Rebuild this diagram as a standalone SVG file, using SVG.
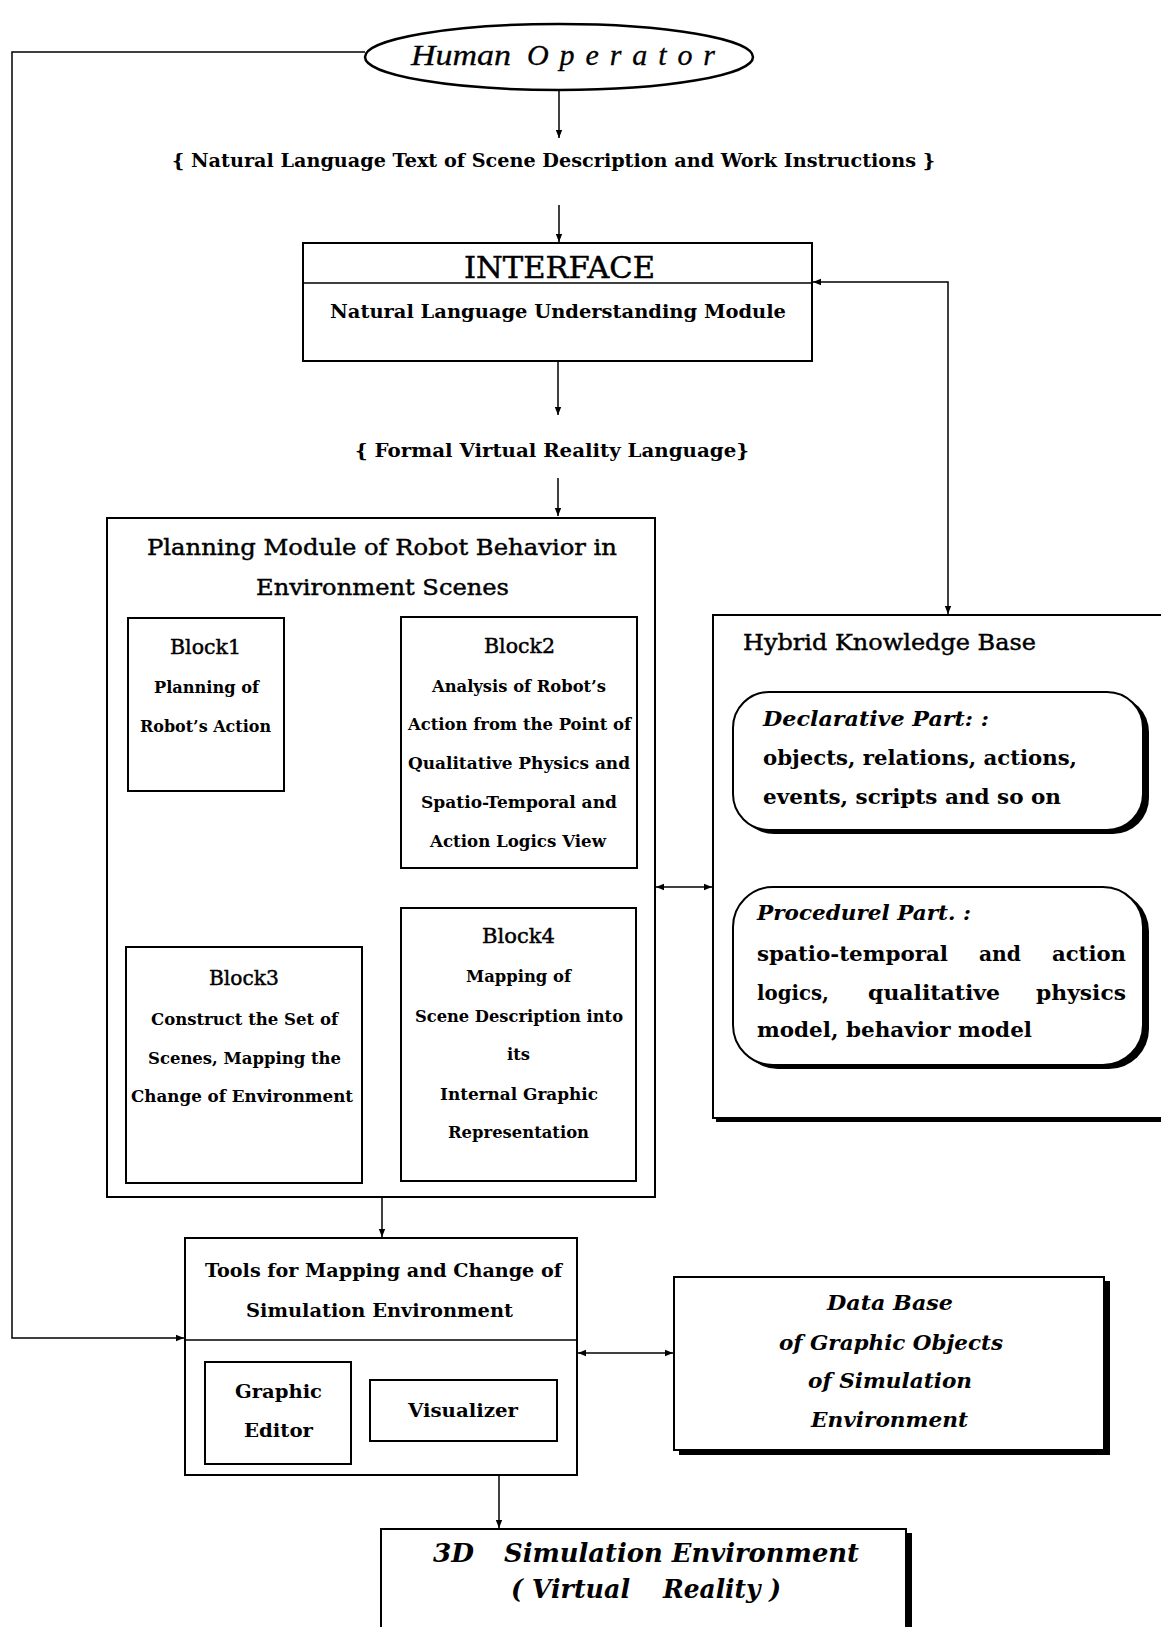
<svg xmlns="http://www.w3.org/2000/svg" width="1161" height="1627" viewBox="0 0 1161 1627">
<style>
.box{fill:#fff;stroke:#000;stroke-width:2}
.sh{fill:#000;stroke:none}
.ln{fill:none;stroke:#000;stroke-width:1.6}
.conn path{fill:none;stroke:#000;stroke-width:1.5}
text{fill:#000}
.b{font-family:"DejaVu Serif","Liberation Serif",serif;font-weight:bold}
.r{font-family:"DejaVu Serif","Liberation Serif",serif;stroke:#000;stroke-width:0.45}
.bi{font-family:"DejaVu Serif","Liberation Serif",serif;font-weight:bold;font-style:italic}
.li{font-family:"Liberation Serif",serif;font-style:italic;stroke:#000;stroke-width:0.3}
</style>
<defs>
<marker id="ah" viewBox="0 0 10 10" refX="10" refY="5" markerWidth="9" markerHeight="8" orient="auto-start-reverse" markerUnits="userSpaceOnUse">
<path d="M0,1 L10,5 L0,9 z" fill="#000"/>
</marker>
</defs>
<rect width="1161" height="1627" fill="#fff"/>

<g class="conn">
<path d="M559,90 V138" marker-end="url(#ah)"/>
<path d="M559,205 V242" marker-end="url(#ah)"/>
<path d="M558,361 V415" marker-end="url(#ah)"/>
<path d="M558,478 V516" marker-end="url(#ah)"/>
<path d="M948,614 V282 H813" marker-start="url(#ah)" marker-end="url(#ah)"/>
<path d="M365,52 H12 V1338 H184" marker-end="url(#ah)"/>
<path d="M285,713 H400" marker-start="url(#ah)" marker-end="url(#ah)"/>
<path d="M205,791 V946" marker-end="url(#ah)"/>
<path d="M363,1064 H400" marker-end="url(#ah)"/>
<path d="M656,887 H712" marker-start="url(#ah)" marker-end="url(#ah)"/>
<path d="M382,1198 V1237" marker-end="url(#ah)"/>
<path d="M578,1353 H673" marker-start="url(#ah)" marker-end="url(#ah)"/>
<path d="M499,1476 V1528" marker-end="url(#ah)"/>
</g>

<g id="human-operator">
<ellipse cx="559" cy="57" rx="194" ry="33" fill="#fff" stroke="#000" stroke-width="2.5"/>
<text class="li" x="411" y="65" font-size="30" textLength="100" lengthAdjust="spacingAndGlyphs">Human</text>
<text class="li" x="527" y="65" font-size="30" textLength="188" lengthAdjust="spacing">Operator</text>
</g>

<g id="label-nl-text">
<text class="b" x="172" y="167" font-size="19" textLength="763" lengthAdjust="spacingAndGlyphs">{ Natural Language Text of Scene Description and Work Instructions }</text>
</g>

<g id="interface">
<rect class="box" x="303" y="243" width="509" height="118"/>
<line class="ln" x1="303" y1="283" x2="812" y2="283"/>
<text class="r" x="464" y="278" font-size="29" textLength="191" lengthAdjust="spacingAndGlyphs">INTERFACE</text>
<text class="b" x="330" y="318" font-size="19" textLength="456" lengthAdjust="spacingAndGlyphs">Natural Language Understanding Module</text>
</g>

<g id="label-formal-vr">
<text class="b" x="355" y="457" font-size="19" textLength="394" lengthAdjust="spacingAndGlyphs">{ Formal Virtual Reality Language}</text>
</g>

<g id="planning-module">
<rect class="box" x="107" y="518" width="548" height="679"/>
<text class="r" x="147" y="555" font-size="23" textLength="470" lengthAdjust="spacingAndGlyphs">Planning Module of Robot Behavior in</text>
<text class="r" x="256" y="595" font-size="23" textLength="253" lengthAdjust="spacingAndGlyphs">Environment Scenes</text>
</g>

<g id="block1">
<rect class="box" x="128" y="618" width="156" height="173"/>
<text class="r" x="170" y="654" font-size="20" textLength="71" lengthAdjust="spacingAndGlyphs">Block1</text>
<text class="b" x="154" y="693" font-size="16" textLength="105" lengthAdjust="spacingAndGlyphs">Planning of</text>
<text class="b" x="140" y="732" font-size="16" textLength="131" lengthAdjust="spacingAndGlyphs">Robot’s Action</text>
</g>

<g id="block2">
<rect class="box" x="401" y="617" width="236" height="251"/>
<text class="r" x="484" y="653" font-size="20" textLength="71" lengthAdjust="spacingAndGlyphs">Block2</text>
<text class="b" x="432" y="692" font-size="16" textLength="174" lengthAdjust="spacingAndGlyphs">Analysis of Robot’s</text>
<text class="b" x="408" y="730" font-size="16" textLength="223" lengthAdjust="spacingAndGlyphs">Action from the Point of</text>
<text class="b" x="408" y="769" font-size="16" textLength="222" lengthAdjust="spacingAndGlyphs">Qualitative Physics and</text>
<text class="b" x="421" y="808" font-size="16" textLength="196" lengthAdjust="spacingAndGlyphs">Spatio-Temporal and</text>
<text class="b" x="430" y="847" font-size="16" textLength="176" lengthAdjust="spacingAndGlyphs">Action Logics View</text>
</g>

<g id="block3">
<rect class="box" x="126" y="947" width="236" height="236"/>
<text class="r" x="209" y="985" font-size="20" textLength="70" lengthAdjust="spacingAndGlyphs">Block3</text>
<text class="b" x="151" y="1025" font-size="16" textLength="187" lengthAdjust="spacingAndGlyphs">Construct the Set of</text>
<text class="b" x="148" y="1064" font-size="16" textLength="193" lengthAdjust="spacingAndGlyphs">Scenes, Mapping the</text>
<text class="b" x="131" y="1102" font-size="16" textLength="222" lengthAdjust="spacingAndGlyphs">Change of Environment</text>
</g>

<g id="block4">
<rect class="box" x="401" y="908" width="235" height="273"/>
<text class="r" x="482" y="943" font-size="20" textLength="73" lengthAdjust="spacingAndGlyphs">Block4</text>
<text class="b" x="466" y="982" font-size="16" textLength="105" lengthAdjust="spacingAndGlyphs">Mapping of</text>
<text class="b" x="415" y="1022" font-size="16" textLength="208" lengthAdjust="spacingAndGlyphs">Scene Description into</text>
<text class="b" x="507" y="1060" font-size="16" textLength="23" lengthAdjust="spacingAndGlyphs">its</text>
<text class="b" x="440" y="1100" font-size="16" textLength="158" lengthAdjust="spacingAndGlyphs">Internal Graphic</text>
<text class="b" x="448" y="1138" font-size="16" textLength="141" lengthAdjust="spacingAndGlyphs">Representation</text>
</g>

<g id="hybrid-knowledge-base">
<rect x="716" y="1118" width="450" height="4" class="sh"/>
<rect class="box" x="713" y="615" width="460" height="503"/>
<text class="r" x="743" y="650" font-size="23" textLength="293" lengthAdjust="spacingAndGlyphs">Hybrid Knowledge Base</text>
</g>

<g id="declarative-part">
<rect class="sh" x="738" y="696" width="411" height="138" rx="36" ry="36"/>
<rect class="box" x="733" y="692" width="410" height="138" rx="36" ry="36"/>
<text class="bi" x="763" y="726" font-size="21" textLength="226" lengthAdjust="spacingAndGlyphs">Declarative Part: :</text>
<text class="b" x="763" y="765" font-size="21" textLength="314" lengthAdjust="spacingAndGlyphs">objects, relations, actions,</text>
<text class="b" x="763" y="804" font-size="21" textLength="298" lengthAdjust="spacingAndGlyphs">events, scripts and so on</text>
</g>

<g id="procedural-part">
<rect class="sh" x="738" y="891" width="411" height="178" rx="40" ry="40"/>
<rect class="box" x="733" y="887" width="410" height="178" rx="40" ry="40"/>
<text class="bi" x="757" y="920" font-size="21" textLength="214" lengthAdjust="spacingAndGlyphs">Procedurel Part. :</text>
<text class="b" x="757" y="961" font-size="21" textLength="191" lengthAdjust="spacingAndGlyphs">spatio-temporal</text>
<text class="b" x="979" y="961" font-size="21" textLength="42" lengthAdjust="spacingAndGlyphs">and</text>
<text class="b" x="1052" y="961" font-size="21" textLength="74" lengthAdjust="spacingAndGlyphs">action</text>
<text class="b" x="757" y="1000" font-size="21" textLength="72" lengthAdjust="spacingAndGlyphs">logics,</text>
<text class="b" x="868" y="1000" font-size="21" textLength="132" lengthAdjust="spacingAndGlyphs">qualitative</text>
<text class="b" x="1036" y="1000" font-size="21" textLength="90" lengthAdjust="spacingAndGlyphs">physics</text>
<text class="b" x="757" y="1037" font-size="21" textLength="275" lengthAdjust="spacingAndGlyphs">model, behavior model</text>
</g>

<g id="tools">
<rect class="box" x="185" y="1238" width="392" height="237"/>
<line class="ln" x1="185" y1="1340" x2="577" y2="1340"/>
<text class="b" x="205" y="1277" font-size="19" textLength="357" lengthAdjust="spacingAndGlyphs">Tools for Mapping and Change of</text>
<text class="b" x="246" y="1317" font-size="19" textLength="267" lengthAdjust="spacingAndGlyphs">Simulation Environment</text>
</g>

<g id="graphic-editor">
<rect class="box" x="205" y="1362" width="146" height="102"/>
<text class="b" x="235" y="1398" font-size="19" textLength="87" lengthAdjust="spacingAndGlyphs">Graphic</text>
<text class="b" x="244" y="1437" font-size="19" textLength="69" lengthAdjust="spacingAndGlyphs">Editor</text>
</g>

<g id="visualizer">
<rect class="box" x="370" y="1380" width="187" height="61"/>
<text class="b" x="408" y="1417" font-size="19" textLength="110" lengthAdjust="spacingAndGlyphs">Visualizer</text>
</g>

<g id="data-base">
<rect class="sh" x="679" y="1281" width="431" height="174"/>
<rect class="box" x="674" y="1277" width="430" height="173"/>
<text class="bi" x="827" y="1310" font-size="21" textLength="126" lengthAdjust="spacingAndGlyphs">Data Base</text>
<text class="bi" x="779" y="1350" font-size="21" textLength="224" lengthAdjust="spacingAndGlyphs">of Graphic Objects</text>
<text class="bi" x="808" y="1388" font-size="21" textLength="164" lengthAdjust="spacingAndGlyphs">of Simulation</text>
<text class="bi" x="811" y="1427" font-size="21" textLength="157" lengthAdjust="spacingAndGlyphs">Environment</text>
</g>

<g id="simulation-3d">
<rect class="sh" x="386" y="1533" width="526" height="120"/>
<rect class="box" x="381" y="1529" width="525" height="120"/>
<text class="bi" x="433" y="1562" font-size="26" textLength="41" lengthAdjust="spacingAndGlyphs">3D</text>
<text class="bi" x="504" y="1562" font-size="26" textLength="355" lengthAdjust="spacingAndGlyphs">Simulation Environment</text>
<text class="bi" x="511" y="1598" font-size="26" textLength="119" lengthAdjust="spacingAndGlyphs">( Virtual</text>
<text class="bi" x="663" y="1598" font-size="26" textLength="118" lengthAdjust="spacingAndGlyphs">Reality )</text>
</g>
</svg>
